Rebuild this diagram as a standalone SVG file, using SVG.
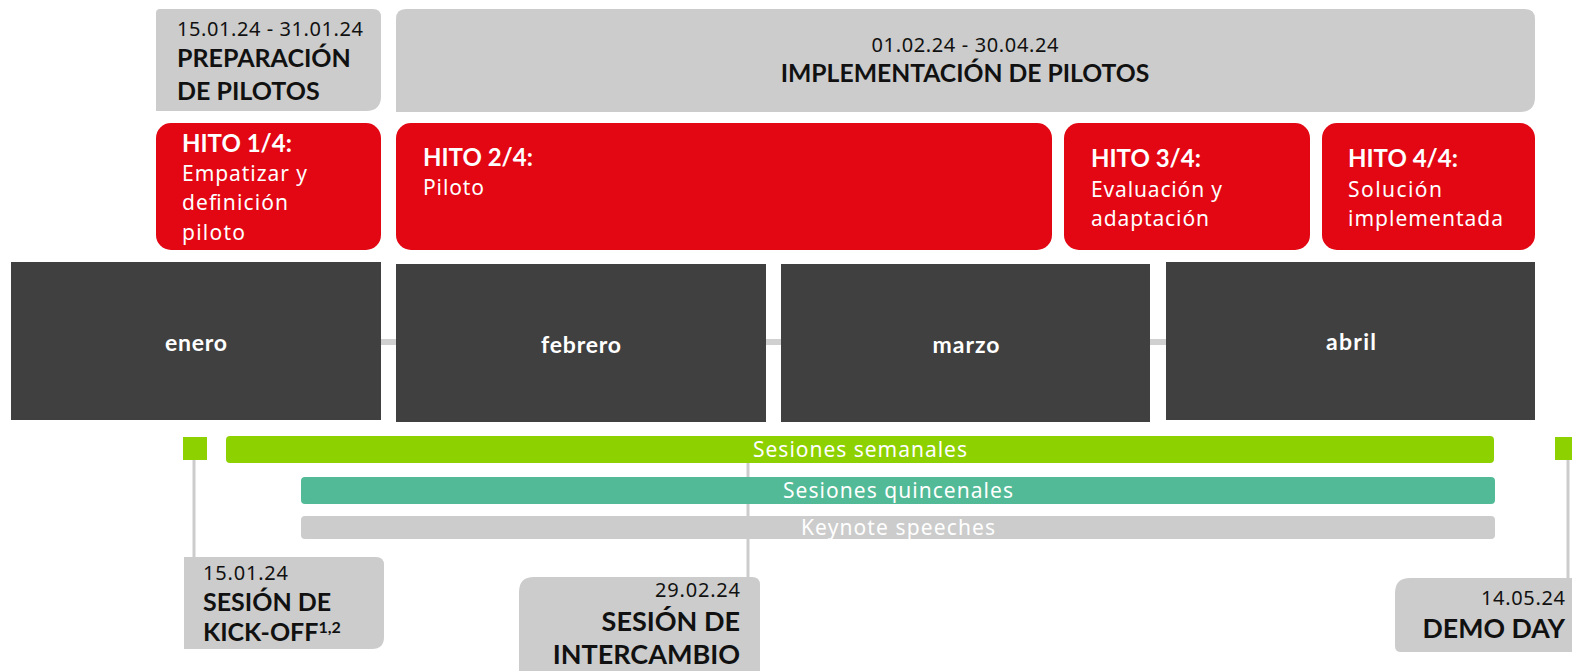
<svg xmlns="http://www.w3.org/2000/svg" width="1572" height="671" viewBox="0 0 1572 671">
<style>
text{font-family:Lato,"Noto Sans","Liberation Sans",sans-serif}
.r{font-family:"Noto Sans","Liberation Sans",sans-serif}
.ph{fill:#cccccc}
.red{fill:#e30613}
.mon{fill:#404040}
.dk{fill:#111}
.b{font-weight:bold}
.mt{fill:#fff;font-weight:bold;font-size:23px;text-anchor:middle}
.ht{fill:#fff;font-weight:bold;font-size:24px}
.hs{fill:#fff;font-size:21px}
.bar{fill:#fff;font-size:21px;text-anchor:middle}
.ln{stroke:#cccccc;stroke-width:3;fill:none}
</style>
<rect width="1572" height="671" fill="#fff"/>
<g id="connectors">
<line x1="381" y1="342" x2="1166" y2="342" stroke="#d0d0d0" stroke-width="6"/>
<line class="ln" x1="194" y1="460" x2="194" y2="558"/>
<line class="ln" x1="748" y1="457" x2="748" y2="578"/>
<line class="ln" x1="1568" y1="460" x2="1568" y2="578"/>
</g>
<g id="phase-prep">
<path class="ph" d="M160,9 H373 Q381,9 381,17 V96 Q381,111 366,111 H156 V13 Q156,9 160,9 Z"/>
<text x="177" y="36" class="dk r" font-size="20" textLength="186">15.01.24 - 31.01.24</text>
<text x="177" y="67" class="dk b" font-size="25">PREPARACIÓN</text>
<text x="177" y="100" class="dk b" font-size="25">DE PILOTOS</text>
</g>
<g id="phase-impl">
<path class="ph" d="M406,9 H1525 Q1535,9 1535,19 V97 Q1535,112 1520,112 H396 V19 Q396,9 406,9 Z"/>
<text x="965" y="52" class="dk r" font-size="20" text-anchor="middle" textLength="187">01.02.24 - 30.04.24</text>
<text x="965" y="82" class="dk b" font-size="24.7" text-anchor="middle">IMPLEMENTACIÓN DE PILOTOS</text>
</g>
<g id="hito1">
<rect class="red" x="156" y="123" width="225" height="127" rx="15"/>
<text x="182" y="152" class="ht">HITO 1/4:</text>
<text x="182" y="181" class="hs r" textLength="125">Empatizar y</text>
<text x="182" y="210" class="hs r" textLength="106">definición</text>
<text x="182" y="240" class="hs r" textLength="63">piloto</text>
</g>
<g id="hito2">
<rect class="red" x="396" y="123" width="656" height="127" rx="15"/>
<text x="423" y="166" class="ht">HITO 2/4:</text>
<text x="423" y="195" class="hs r" textLength="61">Piloto</text>
</g>
<g id="hito3">
<rect class="red" x="1064" y="123" width="246" height="127" rx="15"/>
<text x="1091" y="167" class="ht">HITO 3/4:</text>
<text x="1091" y="197" class="hs r" textLength="131">Evaluación y</text>
<text x="1091" y="226" class="hs r" textLength="118">adaptación</text>
</g>
<g id="hito4">
<rect class="red" x="1322" y="123" width="213" height="127" rx="15"/>
<text x="1348" y="167" class="ht">HITO 4/4:</text>
<text x="1348" y="197" class="hs r" textLength="94">Solución</text>
<text x="1348" y="226" class="hs r" textLength="155">implementada</text>
</g>
<g id="enero">
<rect class="mon" x="11" y="262" width="370" height="158"/>
<text x="196" y="351" class="mt" textLength="62">enero</text>
</g>
<g id="febrero">
<rect class="mon" x="396" y="264" width="370" height="158"/>
<text x="581" y="353" class="mt" textLength="80">febrero</text>
</g>
<g id="marzo">
<rect class="mon" x="781" y="264" width="369" height="158"/>
<text x="966" y="353" class="mt" textLength="67">marzo</text>
</g>
<g id="abril">
<rect class="mon" x="1166" y="262" width="369" height="158"/>
<text x="1351" y="350" class="mt" textLength="50">abril</text>
</g>
<g id="kickoff-marker">
<rect x="183" y="437" width="24" height="23" fill="#8ed100"/>
</g>
<g id="demo-marker">
<rect x="1555" y="437" width="17" height="23" fill="#8ed100"/>
</g>
<g id="semanales">
<rect x="226" y="436" width="1268" height="27" rx="4" fill="#8ed100"/>
<text x="860" y="457" class="bar r" textLength="214">Sesiones semanales</text>
</g>
<g id="quincenales">
<rect x="301" y="477" width="1194" height="27" rx="4" fill="#52ba96"/>
<text x="898" y="498" class="bar r" textLength="230">Sesiones quincenales</text>
</g>
<g id="keynote">
<rect x="301" y="516" width="1194" height="23" rx="4" fill="#cccccc"/>
<text x="898" y="535" class="bar r" textLength="194">Keynote speeches</text>
</g>
<g id="kickoff">
<path class="ph" d="M184,557 H376 Q384,557 384,565 V637 Q384,649 372,649 H184 Z"/>
<text x="203" y="580" class="dk r" font-size="20" textLength="85">15.01.24</text>
<text x="203" y="611" class="dk b" font-size="25">SESIÓN DE</text>
<text x="203" y="641" class="dk b" font-size="25">KICK-OFF<tspan font-size="16" dy="-8">1,2</tspan></text>
</g>
<g id="intercambio">
<path class="ph" d="M519,671 V592 Q519,577 534,577 H752 Q760,577 760,585 V671 Z"/>
<text x="740" y="597" class="dk r" font-size="20" text-anchor="end" textLength="85">29.02.24</text>
<text x="740" y="631" class="dk b" font-size="27" text-anchor="end">SESIÓN DE</text>
<text x="740" y="664" class="dk b" font-size="27" text-anchor="end">INTERCAMBIO</text>
</g>
<g id="demoday">
<path class="ph" d="M1572,578 H1410 Q1395,578 1395,593 V646 Q1395,652 1401,652 H1572 Z"/>
<text x="1565" y="605" class="dk r" font-size="20" text-anchor="end" textLength="84">14.05.24</text>
<text x="1565" y="638" class="dk b" font-size="26.7" text-anchor="end">DEMO DAY</text>
</g>
</svg>
